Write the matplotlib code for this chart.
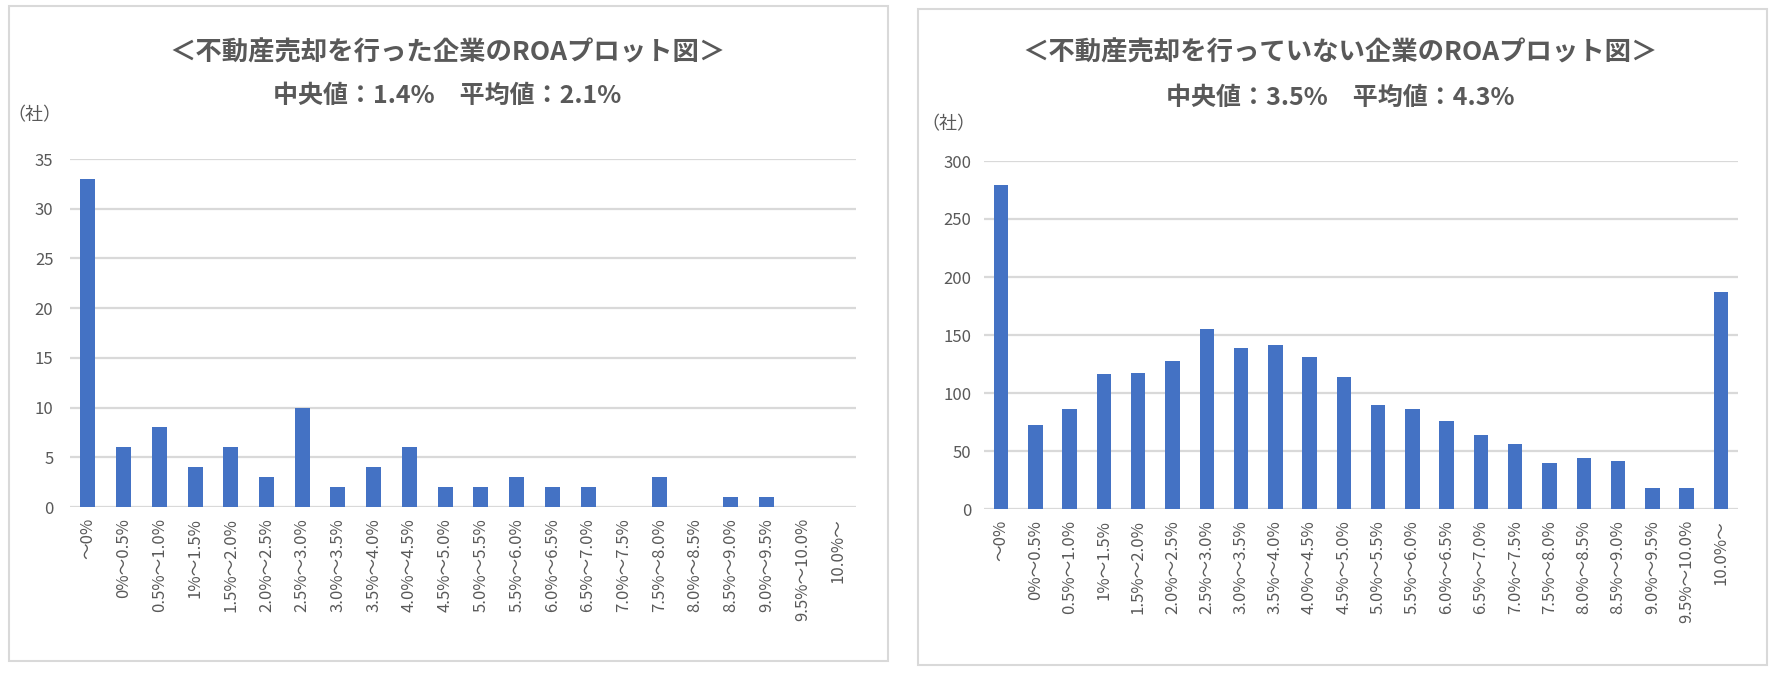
import matplotlib.pyplot as plt
from matplotlib.patches import Rectangle

plt.rcParams["font.family"] = ["Noto Sans CJK JP", "DejaVu Sans"]

# ROA bins (shared by both panels)
CATEGORIES = [
    "～0%", "0%～0.5%", "0.5%～1.0%", "1%～1.5%", "1.5%～2.0%", "2.0%～2.5%",
    "2.5%～3.0%", "3.0%～3.5%", "3.5%～4.0%", "4.0%～4.5%", "4.5%～5.0%",
    "5.0%～5.5%", "5.5%～6.0%", "6.0%～6.5%", "6.5%～7.0%", "7.0%～7.5%",
    "7.5%～8.0%", "8.0%～8.5%", "8.5%～9.0%", "9.0%～9.5%", "9.5%～10.0%",
    "10.0%～",
]

# company counts
SOLD = [33, 6, 8, 4, 6, 3, 10, 2, 4, 6, 2, 2, 3, 2, 2, 0, 3, 0, 1, 1, 0, 0]
NOT_SOLD = [279, 72, 86, 116, 117, 128, 155, 139, 141, 131, 114, 90, 86, 76,
            64, 56, 40, 44, 41, 18, 18, 187]

TITLES = [
    ("＜不動産売却を行った企業のROAプロット図＞", "中央値：1.4%　平均値：2.1%"),
    ("＜不動産売却を行っていない企業のROAプロット図＞", "中央値：3.5%　平均値：4.3%"),
]

BLUE = "#4472C4"
GRID = "#D9D9D9"
TEXT = "#595959"

W, H = 1773, 678
fig = plt.figure(figsize=(W / 100, H / 100), dpi=100)


def px(x0, y0, x1, y1):
    # pixel box (top-left origin) -> figure fraction rect
    return [x0 / W, 1 - y1 / H, (x1 - x0) / W, (y1 - y0) / H]


# panel frames
for (x0, y0, x1, y1) in [(9, 6, 888, 661), (918, 9, 1767, 665)]:
    fig.patches.append(Rectangle((x0 / W, 1 - y1 / H), (x1 - x0) / W, (y1 - y0) / H,
                                 transform=fig.transFigure, facecolor="none",
                                 edgecolor=GRID, linewidth=1.5, zorder=-1))

panels = [
    (SOLD, 35, 5, px(70, 159, 856, 507), 12, (447, 53, 96), (34, 115)),
    (NOT_SOLD, 300, 50, px(984, 161, 1738, 509), 9, (1340, 53, 98), (948, 124)),
]

for i, (vals, ymax, step, rect, ypad, (tx, ty1, ty2), (ux, uy)) in enumerate(panels):
    ax = fig.add_axes(rect)
    ax.patch.set_alpha(0)
    x = range(len(CATEGORIES))
    ax.bar(x, vals, width=0.42, color=BLUE, zorder=3)
    ax.set_xlim(-0.5, len(CATEGORIES) - 0.5)
    ax.set_ylim(0, ymax)
    ax.set_yticks(range(0, ymax + 1, step))
    ax.set_xticks(list(x))
    ax.set_xticklabels(CATEGORIES, rotation=90, va="top", ha="center")
    ax.tick_params(axis="both", length=0, labelsize=12, labelcolor=TEXT)
    ax.tick_params(axis="y", pad=ypad)
    ax.tick_params(axis="x", pad=8)
    ax.grid(axis="y", color=GRID, linewidth=1.6, zorder=0)
    ax.set_axisbelow(True)
    for s in ax.spines.values():
        s.set_visible(False)

    t1, t2 = TITLES[i]
    fig.text(tx / W, 1 - ty1 / H, t1, ha="center", va="center", fontsize=19,
             weight="bold", color=TEXT)
    fig.text(tx / W, 1 - ty2 / H, t2, ha="center", va="center", fontsize=18,
             weight="bold", color=TEXT)
    fig.text(ux / W, 1 - uy / H, "（社）", ha="center", va="center", fontsize=13,
             color=TEXT)

fig.savefig("out.png", dpi=100)
